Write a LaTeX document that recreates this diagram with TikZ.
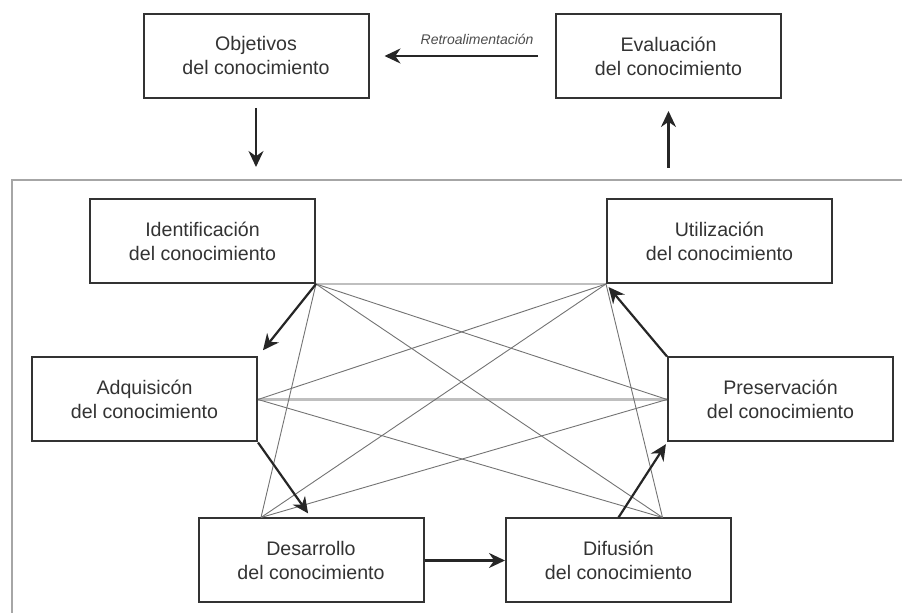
\documentclass[tikz,border=0pt]{standalone}
\usepackage{fontspec}
\setmainfont{Liberation Sans}
\usetikzlibrary{arrows.meta}

\begin{document}
\begin{tikzpicture}[x=0.5pt,y=-0.5pt,
        caja/.style={draw=black!80,line width=1pt,minimum width=112.5pt,minimum height=42pt,
            inner sep=0pt,align=center,text=black!80,font=\fontsize{9.8}{12}\selectfont},
        flecha/.style={draw=black!85,line width=1.1pt,-{Stealth[length=8pt,width=7.5pt]}},
        enlace/.style={draw=black!55,line width=0.45pt},
        enlaceh/.style={draw=black!25,line width=1.3pt},
        marco/.style={draw=black!35,line width=0.9pt}]
        \useasboundingbox (0,0) rectangle (902,613);
        % bloque exterior
        \node[caja] (obj) at (256,56) {Objetivos\\del conocimiento};
        \node[caja] (eval) at (668.5,56) {Evaluación\\del conocimiento};
        \coordinate (fin) at (256,180);
        \coordinate (fout) at (668.5,180);
        \draw[marco] (12,613) |- (902,180);
        % ciclo
        \node[caja] (ident) at (202.5,241) {Identificación\\del conocimiento};
        \node[caja] (util) at (719.5,241) {Utilización\\del conocimiento};
        \node[caja] (adq) at (144.5,399.5) {Adquisicón\\del conocimiento};
        \node[caja] (pres) at (780.5,399.5) {Preservación\\del conocimiento};
        \node[caja] (desar) at (311,560.5) {Desarrollo\\del conocimiento};
        \node[caja] (difu) at (618.5,560.5) {Difusión\\del conocimiento};
        \coordinate (dtop) at ([xshift=-25pt]desar.north);
        \coordinate (ftop) at ([xshift=22pt]difu.north);
        % enlaces
        \draw[enlaceh] (ident.south east) -- (util.south west);
        \draw[enlaceh] (adq.east) -- (pres.west);
        \draw[enlace] (ident.south east) -- (pres.west);
        \draw[enlace] (ident.south east) -- (dtop);
        \draw[enlace] (ident.south east) -- (ftop);
        \draw[enlace] (util.south west) -- (adq.east);
        \draw[enlace] (util.south west) -- (dtop);
        \draw[enlace] (util.south west) -- (ftop);
        \draw[enlace] (adq.east) -- (ftop);
        \draw[enlace] (pres.west) -- (dtop);
        % flechas
        \draw[flecha,shorten >=7.5pt,shorten <=8.5pt] (eval.west) -- (obj.east)
            node[pos=0.42,above=2pt,font=\fontsize{7}{8}\selectfont\itshape,text=black!70] {Retroalimentación};
        \draw[flecha,shorten <=4.5pt,shorten >=6.5pt] (obj.south) -- (fin);
        \draw[flecha,shorten <=6pt,shorten >=6pt] (fout) -- (eval.south);
        \draw[flecha,shorten >=4pt] (ident.south east) -- (adq.north east);
        \draw[flecha,shorten >=2.5pt] (adq.south east) -- (desar.north);
        \draw[flecha] (desar.east) -- (difu.west);
        \draw[flecha,shorten >=1pt] (difu.north) -- (pres.south west);
        \draw[flecha,shorten >=2pt] (pres.north west) -- (util.south west);
\end{tikzpicture}
\end{document}
